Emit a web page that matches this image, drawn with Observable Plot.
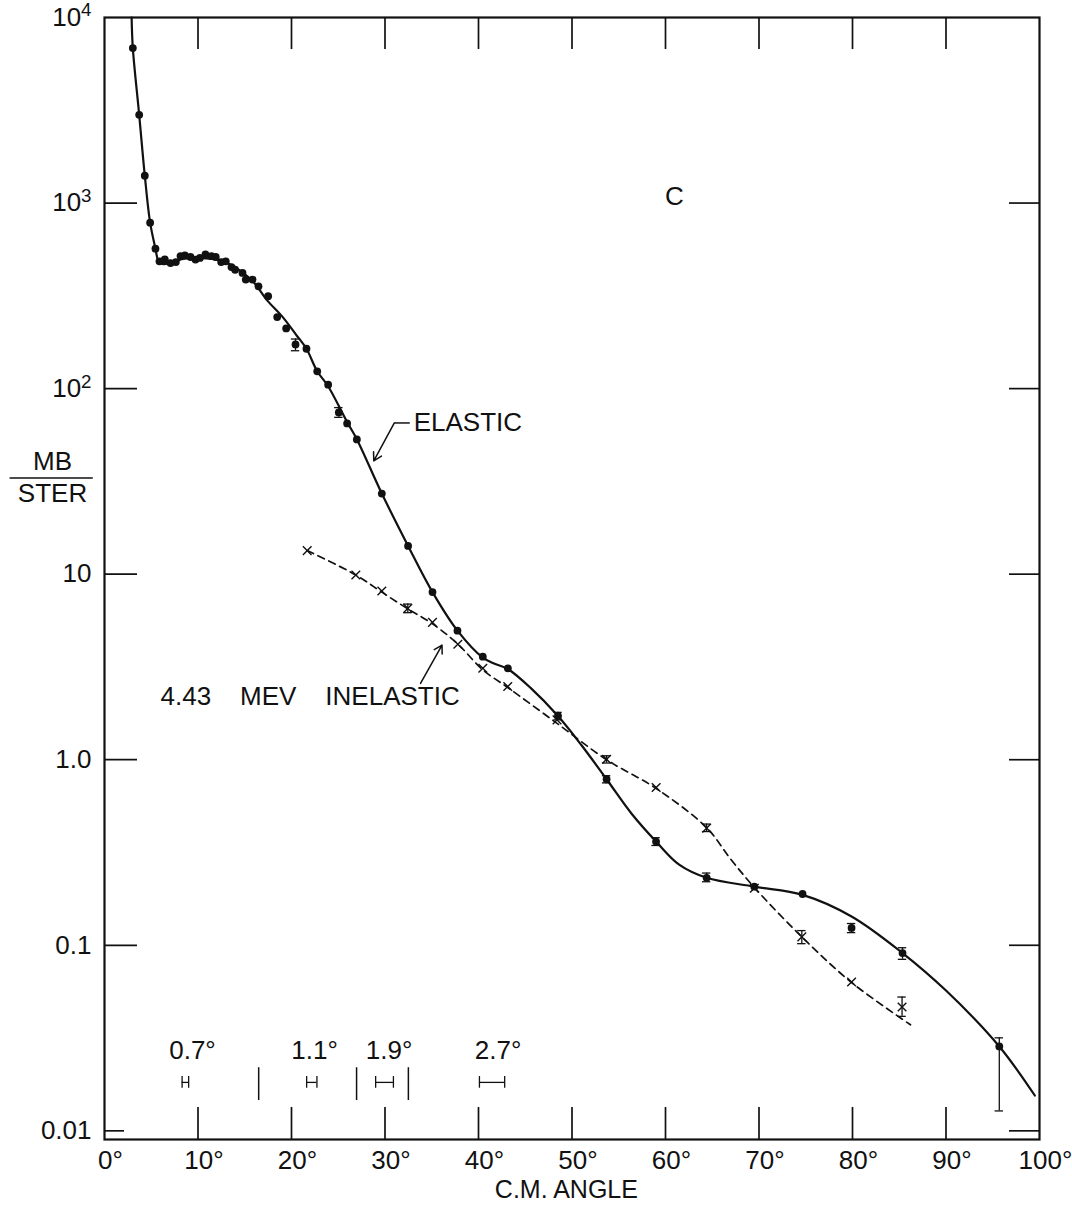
<!DOCTYPE html>
<html><head><meta charset="utf-8">
<script src="https://cdn.jsdelivr.net/npm/d3@7"></script>
<script src="https://cdn.jsdelivr.net/npm/@observablehq/plot@0.6"></script>
<style>body{margin:0;background:#fff}</style>
</head><body><div id="chart"></div>
<script>
// ---- data ----
const elasticAngle = [3.03, 3.71, 4.31, 4.88, 5.45, 5.88, 6.45, 7.06, 7.63, 8.13, 8.6, 9.2, 9.73, 10.2, 10.8, 11.44, 11.9, 12.48, 12.97, 13.58, 13.97, 14.76, 15.11, 15.83, 16.47, 17.5, 18.47, 19.43, 20.43, 21.6, 22.75, 23.92, 25.06, 25.95, 26.99, 29.66, 32.47, 35.08, 37.75, 40.46, 43.14, 48.5, 53.7, 58.99, 64.4, 69.5, 74.66, 79.9, 85.35, 95.7];
const elasticValue = [6840, 2990, 1405, 784, 568, 485, 497, 475, 481, 518, 523, 512, 496, 506, 529, 517, 512, 481, 485, 452, 437, 420, 387, 387, 356, 315, 243, 211, 173, 164, 124, 105, 74.4, 64.9, 53.2, 27.2, 14.2, 8.01, 4.96, 3.59, 3.11, 1.72, 0.785, 0.362, 0.231, 0.207, 0.189, 0.124, 0.0908, 0.0285];

const elasticCurveAngle = [2.9, 3.03, 3.71, 4.31, 4.88, 5.45, 5.75, 6.2, 7.0, 8.5, 10.0, 11.5, 13.0, 14.5, 16.0, 17.4, 19.0, 20.5, 21.6, 22.75, 23.92, 25.95, 27.0, 29.66, 32.47, 35.08, 37.75, 40.46, 41.8, 43.14, 45.6, 48.5, 51.0, 53.7, 56.4, 59.0, 61.5, 64.4, 69.5, 74.66, 79.9, 85.35, 90.0, 95.7, 99.5];
const elasticCurveValue = [10000, 6840, 2990, 1405, 784, 568, 490, 470, 474, 502, 505, 500, 478, 432, 372, 299, 245, 195, 164, 124, 103, 66, 53.2, 27.2, 14.2, 8.0, 4.96, 3.55, 3.28, 3.08, 2.43, 1.72, 1.2, 0.785, 0.51, 0.362, 0.271, 0.231, 0.207, 0.187, 0.143, 0.0908, 0.057, 0.0285, 0.0155];

const inelasticAngle = [21.68, 26.88, 29.66, 32.44, 35.08, 37.79, 40.46, 43.13, 48.4, 53.7, 59.0, 64.4, 69.5, 74.58, 79.9, 85.3];
const inelasticValue = [13.4, 9.9, 8.11, 6.54, 5.5, 4.19, 3.11, 2.48, 1.64, 1.006, 0.708, 0.428, 0.203, 0.111, 0.0634, 0.0465];

const inelasticCurveAngle = [21.68, 26.88, 29.66, 32.44, 35.08, 37.79, 40.46, 43.13, 48.4, 53.7, 59.0, 64.4, 67.0, 69.5, 74.58, 79.9, 86.2];
const inelasticCurveValue = [13.4, 9.9, 8.0, 6.5, 5.4, 4.2, 3.05, 2.45, 1.57, 1.0, 0.70, 0.43, 0.29, 0.205, 0.111, 0.063, 0.0373];

const elasticErrAngle = [20.43, 25.06, 48.5, 53.7, 58.99, 64.4, 79.9, 85.35, 95.7];
const elasticErrLow   = [160, 70, 1.64, 0.75, 0.345, 0.22, 0.117, 0.084, 0.0128];
const elasticErrHigh  = [185, 79, 1.80, 0.82, 0.38, 0.245, 0.131, 0.097, 0.0317];

const inelasticErrAngle = [32.44, 53.7, 64.4, 74.58, 85.3];
const inelasticErrLow   = [6.2, 0.96, 0.41, 0.102, 0.0414];
const inelasticErrHigh  = [6.9, 1.05, 0.45, 0.120, 0.0526];

const xTicks = [0, 10, 20, 30, 40, 50, 60, 70, 80, 90, 100];
const xTickLabels = ["0°", "10°", "20°", "30°", "40°", "50°", "60°", "70°", "80°", "90°", "100°"];
const yTicks = [10000, 1000, 100, 10, 1, 0.1, 0.01];
const yTickLabels = ["10^4", "10^3", "10^2", "10", "1.0", "0.1", "0.01"];

const resolutionLabel = ["0.7°", "1.1°", "1.9°", "2.7°"];
const resolutionWidth = [0.7, 1.1, 1.9, 2.7];
const resolutionCenter = [8.65, 22.17, 29.95, 41.45];
const resolutionLabelAngle = [9.41, 22.46, 30.43, 42.1];
const separatorAngle = [16.49, 26.96, 32.5];

const yLabelTop = "MB";
const yLabelBottom = "STER";
const xLabel = "C.M. ANGLE";
const panelLabel = "C";
const elasticLabel = "ELASTIC";
const inelasticLabel = "4.43\u00a0\u00a0\u00a0 MEV\u00a0\u00a0\u00a0 INELASTIC";

// ---- build tables ----
const zip = (xs, ys) => xs.map((x, i) => ({x, y: ys[i]}));
const elastic = zip(elasticAngle, elasticValue);
const elasticCurve = zip(elasticCurveAngle, elasticCurveValue);
const inelastic = zip(inelasticAngle, inelasticValue);
const inelasticCurve = zip(inelasticCurveAngle, inelasticCurveValue);
const elasticErr = elasticErrAngle.map((x, i) => ({x, lo: elasticErrLow[i], hi: elasticErrHigh[i]}));
const inelasticErr = inelasticErrAngle.map((x, i) => ({x, lo: inelasticErrLow[i], hi: inelasticErrHigh[i]}));
const errAll = elasticErr.concat(inelasticErr);
const capW = 0.45;
const caps = errAll.flatMap(d => [{x: d.x, y: d.lo}, {x: d.x, y: d.hi}]);
const res = resolutionLabel.map((t, i) => ({t, lx: resolutionLabelAngle[i], x1: resolutionCenter[i] - resolutionWidth[i] / 2, x2: resolutionCenter[i] + resolutionWidth[i] / 2}));
const resY = 0.01824, resCap = 1.075, labY = 0.027;

const ink = "#111";
const chart = Plot.plot({
  width: 1072, height: 1205,
  marginLeft: 104, marginRight: 33, marginTop: 17, marginBottom: 66,
  style: {fontFamily: "'Liberation Sans', Arial, sans-serif", fontSize: "26px", color: ink, background: "#fff"},
  x: {domain: [0, 100]},
  y: {type: "log", domain: [0.00898, 10000]},
  marks: [
    Plot.frame({stroke: ink, strokeWidth: 2.2}),
    // inward ticks
    Plot.axisX({anchor: "bottom", ticks: xTicks.slice(1, -1), tickSize: -32, fill: "none", label: null, strokeWidth: 1.7}),
    Plot.axisX({anchor: "top", ticks: xTicks.slice(1, -1), tickSize: -31, fill: "none", label: null, strokeWidth: 1.7}),
    Plot.axisY({anchor: "left", ticks: yTicks.slice(1, -1), tickSize: -33, fill: "none", label: null, strokeWidth: 1.7}),
    Plot.axisY({anchor: "left", ticks: [0.01], tickSize: -20, fill: "none", label: null, strokeWidth: 1.7}),
    Plot.axisY({anchor: "right", ticks: yTicks.slice(1), tickSize: -31, fill: "none", label: null, strokeWidth: 1.7}),
    // tick labels
    Plot.axisX({anchor: "bottom", ticks: xTicks, tickSize: 0, tickPadding: 11, dx: 6, label: null,
      tickFormat: d => xTickLabels[xTicks.indexOf(d)]}),
    Plot.axisY({anchor: "left", ticks: yTicks, tickSize: 0, tickPadding: 13, label: null,
      tickFormat: d => yTickLabels[yTicks.indexOf(d)]}),
    // axis titles
    Plot.text([xLabel], {x: 49.4, frameAnchor: "bottom", dy: 50, lineAnchor: "middle", fontSize: 25, text: d => d}),
    Plot.text([yLabelTop], {y: 40.4, frameAnchor: "left", dx: -52, textAnchor: "middle", lineAnchor: "middle", text: d => d}),
    Plot.text([yLabelBottom], {y: 27.3, frameAnchor: "left", dx: -52, textAnchor: "middle", lineAnchor: "middle", text: d => d}),
    Plot.ruleY([33.0], {x1: -10.1, x2: -1.2, stroke: ink, strokeWidth: 1.6}),
    // curves
    Plot.line(elasticCurve, {x: "x", y: "y", curve: "catmull-rom", stroke: ink, strokeWidth: 2.2}),
    Plot.line(inelasticCurve, {x: "x", y: "y", curve: "catmull-rom", stroke: ink, strokeWidth: 1.7, strokeDasharray: "7,5"}),
    // error bars
    Plot.ruleX(errAll, {x: "x", y1: "lo", y2: "hi", stroke: ink, strokeWidth: 1.3}),
    Plot.ruleY(caps, {y: "y", x1: d => d.x - capW, x2: d => d.x + capW, stroke: ink, strokeWidth: 1.3}),
    // points
    Plot.dot(elastic, {x: "x", y: "y", r: 3.9, fill: ink, stroke: null}),
    Plot.dot(inelastic, {x: "x", y: "y", symbol: "times", r: 4, stroke: ink, strokeWidth: 1.4}),
    // annotations
    Plot.text([panelLabel], {x: 60.96, y: 1077, text: d => d, lineAnchor: "middle"}),
    Plot.text([elasticLabel], {x: 33.07, y: 65.3, text: d => d, textAnchor: "start", lineAnchor: "middle"}),
    Plot.link([{}], {x1: 31.0, y1: 65.3, x2: 32.65, y2: 65.3, stroke: ink, strokeWidth: 1.5}),
    Plot.arrow([{}], {x1: 31.0, y1: 65.3, x2: 28.8, y2: 40.8, stroke: ink, strokeWidth: 1.5, headLength: 9}),
    Plot.text([inelasticLabel], {x: 6.0, y: 2.18, text: d => d, textAnchor: "start", lineAnchor: "middle"}),
    Plot.arrow([{}], {x1: 33.8, y1: 2.58, x2: 36.1, y2: 4.15, stroke: ink, strokeWidth: 1.5, headLength: 9}),
    // angular resolution markers
    Plot.text(res, {x: "lx", y: labY, text: "t", lineAnchor: "middle"}),
    Plot.ruleY(res, {y: resY, x1: "x1", x2: "x2", stroke: ink, strokeWidth: 1.3}),
    Plot.ruleX(res.flatMap(d => [d.x1, d.x2]), {x: d => d, y1: resY / resCap, y2: resY * resCap, stroke: ink, strokeWidth: 1.3}),
    Plot.ruleX(separatorAngle, {x: d => d, y1: 0.01456, y2: 0.02188, stroke: ink, strokeWidth: 1.5})
  ]
});
// render "10^n" tick labels with a real superscript
d3.select(chart).selectAll("text").each(function () {
  const t = this.textContent;
  const m = /^(\d+)\^(\d+)$/.exec(t);
  if (!m) return;
  const sel = d3.select(this);
  sel.text(m[1]);
  sel.append("tspan").attr("dy", "-0.5em").attr("font-size", "0.72em").text(m[2]);
});
document.getElementById("chart").appendChild(chart);
</script>
</body></html>
